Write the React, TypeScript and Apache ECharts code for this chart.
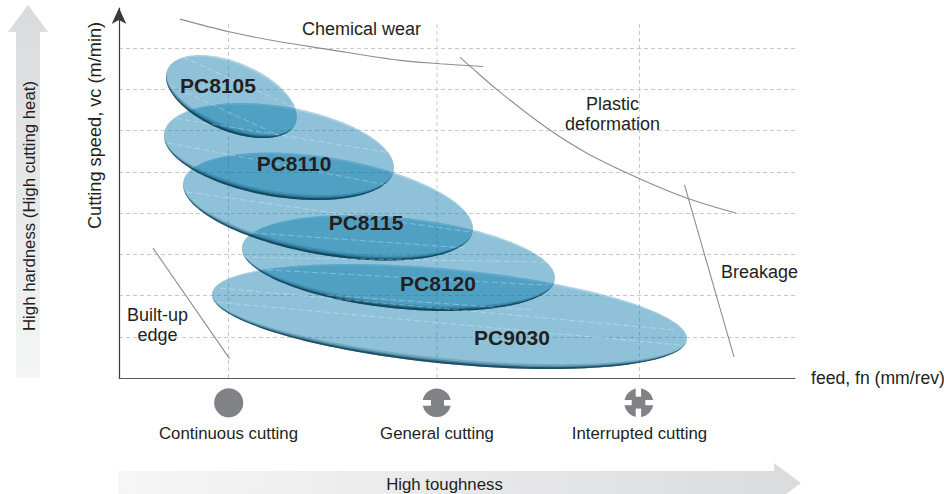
import React, { useEffect, useRef } from "react";
import * as echarts from "echarts";

const FONT = '"Liberation Sans", Arial, sans-serif';
const INK = "#231f20";

// cutting-condition ticks on the feed axis
const cuttingFeeds = [1.095, 3.18, 5.205];
const cuttingNames = ["Continuous cutting", "General cutting", "Interrupted cutting"];
const guideTopSpeed = 8.63;

// grades, drawn from the bottom of the stack upwards
const gradeNames = ["PC9030", "PC8120", "PC8115", "PC8110", "PC8105"];
const gradeFeed = [3.305, 2.795, 2.09, 1.6, 1.125];
const gradeSpeed = [1.491, 2.788, 4.158, 5.491, 6.824];
const gradeFeedReach = [2.375, 1.565, 1.45, 1.15, 0.655];
const gradeSpeedReach = [1.273, 1.164, 1.309, 1.176, 1.006];
const gradeFeedTilt = [1.0, 0.48, 0.59, 0.38, 0.315];
const gradeLabelFeed = [3.93, 3.19, 2.47, 1.75, 0.99];
const gradeLabelSpeed = [0.97, 2.28, 3.76, 5.19, 7.08];

// failure boundaries [feed, speed]
const chemicalWear = [[0.61, 8.7], [1.09, 8.4], [1.61, 8.15], [2.06, 7.98], [2.81, 7.7], [3.21, 7.62], [3.64, 7.55]];
const plasticDeformation = [[3.41, 7.78], [3.51, 7.56], [3.81, 6.93], [4.28, 6.06], [4.68, 5.45], [5.19, 4.85], [5.68, 4.36], [6.17, 4.0]];
const breakage = [[5.655, 4.68], [6.15, 0.51]];
const builtUpEdge = [[0.34, 3.15], [1.105, 0.47]];

// region labels
const regionNames = ["Chemical wear", "Plastic\ndeformation", "Breakage", "Built-up\nedge"];
const regionFeed = [2.425, 4.935, 6.405, 0.385];
const regionSpeed = [8.46, 6.4, 2.57, 1.28];

// pale dashed streaks seen through the ellipses
const streaks = [
  [[0.64, 7.78], [1.76, 6.55]],
  [[0.51, 7.1], [1.59, 5.89]],
  [[0.48, 6.33], [2.74, 5.45]],
  [[0.49, 5.7], [2.68, 4.68]],
  [[0.68, 4.51], [3.51, 3.54]],
  [[1.33, 3.52], [3.48, 3.15]],
  [[1.24, 2.93], [4.28, 2.81]],
  [[1.48, 2.62], [4.28, 2.25]],
  [[2.08, 2.01], [4.14, 1.65]],
  [[1.01, 2.18], [5.58, 1.16]],
  [[0.98, 1.84], [5.61, 0.8]],
];

function renderGrade(_params: any, api: any) {
  const c = api.coord([api.value(0), api.value(1)]);
  const hx = api.size([api.value(2), 0])[0];
  const hy = api.size([0, api.value(3)])[1];
  const off = api.size([api.value(4), 0])[0];
  const sc = off * hy;
  const diff = hx * hx - hy * hy;
  const sum = hx * hx + hy * hy;
  const theta = Math.atan2(2 * sc, diff) / 2;
  const d = Math.hypot(diff, 2 * sc);
  const a = Math.sqrt((sum + d) / 2);
  const b = Math.sqrt((sum - d) / 2);
  const cos = Math.cos(theta);
  const sin = Math.sin(theta);
  const pt = (u: number, v: number) => [c[0] + u * cos - v * sin, c[1] + u * sin + v * cos];
  const body: number[][] = [];
  for (let i = 0; i < 180; i++) {
    const t = (i / 180) * Math.PI * 2;
    body.push(pt(a * Math.cos(t), b * Math.sin(t)));
  }
  const crescent = (thick: number) => {
    const out: number[][] = [];
    const n = 80;
    for (let i = 0; i <= n; i++) {
      const t = (i / n) * Math.PI;
      out.push(pt(a * Math.cos(t), b * Math.sin(t)));
    }
    for (let i = n; i >= 0; i--) {
      const t = (i / n) * Math.PI;
      out.push(pt(a * Math.cos(t), (b - thick) * Math.sin(t)));
    }
    return out;
  };
  const topRim: number[][] = [];
  for (let i = 0; i <= 80; i++) {
    const t = Math.PI + (i / 80) * Math.PI;
    topRim.push(pt(a * Math.cos(t), b * Math.sin(t)));
  }
  for (let i = 80; i >= 0; i--) {
    const t = Math.PI + (i / 80) * Math.PI;
    topRim.push(pt(a * Math.cos(t), (b - 2) * Math.sin(t)));
  }
  return {
    type: "group",
    children: [
      { type: "polygon", shape: { points: body }, style: { fill: "rgba(0,115,168,0.44)" } },
      { type: "polygon", shape: { points: topRim }, style: { fill: "rgba(255,255,255,0.25)" } },
      { type: "polygon", shape: { points: crescent(5.5) }, style: { fill: "rgba(5,75,105,0.2)" } },
      { type: "polygon", shape: { points: crescent(3.5) }, style: { fill: "rgba(5,65,90,0.35)" } },
      { type: "polygon", shape: { points: crescent(2) }, style: { fill: "rgba(5,50,70,0.65)" } },
    ],
  };
}

const boundary = (data: number[][], smooth: number) => ({
  type: "line",
  data,
  smooth,
  symbol: "none",
  silent: true,
  lineStyle: { color: "#8c8d8f", width: 1.1 },
  z: 4,
});

function buildOption() {
  const gray = "#808285";
  const notch = (x: number, y: number, width: number, height: number) => ({
    type: "rect",
    shape: { x, y, width, height },
    style: { fill: "#fff" },
  });
  const disc = (cx: number, cy: number, r: number) => ({
    type: "circle",
    shape: { cx, cy, r },
    style: { fill: gray },
  });
  const caption = (text: string, x: number, y: number, rotation = 0) => ({
    type: "text",
    x,
    y,
    rotation,
    z: 10,
    style: {
      text,
      fill: INK,
      font: `16.8px ${FONT}`,
      align: "center",
      verticalAlign: "middle",
    },
  });
  return {
    animation: false,
    backgroundColor: "#fff",
    textStyle: { fontFamily: FONT },
    grid: { left: 119, top: 8, width: 676, height: 370, containLabel: false, outerBoundsMode: "none" },
    xAxis: {
      type: "value",
      min: 0,
      max: 6.76,
      name: "feed, fn (mm/rev)",
      nameLocation: "end",
      nameGap: 16,
      nameTextStyle: { color: INK, fontSize: 17.6, fontFamily: FONT },
      axisLine: { onZero: false, lineStyle: { color: "#58595b", width: 1.2 } },
      axisTick: { show: false },
      splitLine: { show: false },
      axisLabel: {
        customValues: cuttingFeeds,
        formatter: (v: number) => cuttingNames[cuttingFeeds.indexOf(v)] ?? "",
        color: INK,
        fontSize: 16.8,
        fontFamily: FONT,
        margin: 47,
        hideOverlap: false,
      },
    },
    yAxis: {
      type: "value",
      min: 0,
      max: 8.97,
      interval: 1,
      name: "Cutting speed, vc (m/min)",
      nameLocation: "middle",
      nameGap: 15,
      nameRotate: 90,
      nameTextStyle: { color: INK, fontSize: 18.2, fontFamily: FONT, padding: [0, 0, 0, 135] },
      axisLine: {
        onZero: false,
        symbol: ["none", "arrow"],
        symbolSize: [11, 16],
        lineStyle: { color: "#3a3a3c", width: 1.2 },
      },
      axisTick: { show: false },
      axisLabel: { show: false },
      splitLine: {
        show: true,
        showMinLine: false,
        showMaxLine: false,
        lineStyle: { color: "#c8c9ca", type: [4, 3], width: 1 },
      },
    },
    series: [
      ...cuttingFeeds.map((f) => ({
        type: "line",
        data: [[f, 0], [f, guideTopSpeed]],
        symbol: "none",
        silent: true,
        lineStyle: { color: "#c8c9ca", type: [4, 3], width: 1 },
        z: 1,
      })),
      {
        type: "custom",
        renderItem: renderGrade,
        data: gradeNames.map((_, i) => [gradeFeed[i], gradeSpeed[i], gradeFeedReach[i], gradeSpeedReach[i], gradeFeedTilt[i]]),
        silent: true,
        clip: false,
        z: 2,
      },
      ...streaks.map((s) => ({
        type: "line",
        data: s,
        symbol: "none",
        silent: true,
        lineStyle: { color: "rgba(255,255,255,0.3)", type: [6, 3], width: 1 },
        z: 3,
      })),
      boundary(chemicalWear, 0.3),
      boundary(plasticDeformation, 0.3),
      boundary(breakage, 0),
      boundary(builtUpEdge, 0),
      {
        type: "scatter",
        symbolSize: 0,
        silent: true,
        z: 6,
        itemStyle: { opacity: 1 },
        data: gradeNames.map((name, i) => ({ name, value: [gradeLabelFeed[i], gradeLabelSpeed[i]] })),
        label: {
          show: true,
          position: "inside",
          formatter: "{b}",
          color: INK,
          opacity: 1,
          fontFamily: FONT,
          fontSize: 21,
          fontWeight: "bold",
        },
      },
      {
        type: "scatter",
        symbolSize: 0,
        silent: true,
        z: 6,
        itemStyle: { opacity: 1 },
        data: regionNames.map((name, i) => ({ name, value: [regionFeed[i], regionSpeed[i]] })),
        label: {
          show: true,
          position: "inside",
          formatter: "{b}",
          color: INK,
          opacity: 1,
          fontFamily: FONT,
          fontSize: 18,
          lineHeight: 20,
          align: "center",
        },
      },
    ],
    graphic: [
      {
        type: "polygon",
        shape: { points: [[28, 5], [48, 32], [40, 32], [40, 378], [16, 378], [16, 32], [8, 32]] },
        style: { fill: new echarts.graphic.LinearGradient(0, 0, 0, 1, [{ offset: 0, color: "#d9dadb" }, { offset: 1, color: "#f4f5f5" }]) },
        z: -1,
      },
      {
        type: "polygon",
        shape: { points: [[118, 471], [774, 471], [774, 463], [801, 483], [774, 503], [774, 495], [118, 495]] },
        style: { fill: new echarts.graphic.LinearGradient(0, 0, 1, 0, [{ offset: 0, color: "#f6f6f7" }, { offset: 1, color: "#dadbdc" }]) },
        z: -1,
      },
      caption("High hardness (High cutting heat)", 29, 206, Math.PI / 2),
      caption("High toughness", 444.5, 484),
      disc(228.7, 402.8, 14.6),
      disc(436.7, 402.8, 14.3),
      notch(421, 400, 10, 5.7),
      notch(444, 400, 9, 5.7),
      disc(638.8, 402.8, 14.5),
      notch(635.7, 386, 5.4, 10.7),
      notch(635.7, 408.6, 5.4, 11),
      notch(622, 400, 9.7, 5.2),
      notch(645.3, 400, 10, 5.2),
    ],
  };
}

export default function App() {
  const ref = useRef<HTMLDivElement>(null);
  useEffect(() => {
    const chart = echarts.init(ref.current!, null, { renderer: "svg" });
    chart.setOption(buildOption() as any);
    return () => chart.dispose();
  }, []);
  return <div ref={ref} style={{ position: "absolute", left: 0, top: 0, width: 944, height: 494 }} />;
}
